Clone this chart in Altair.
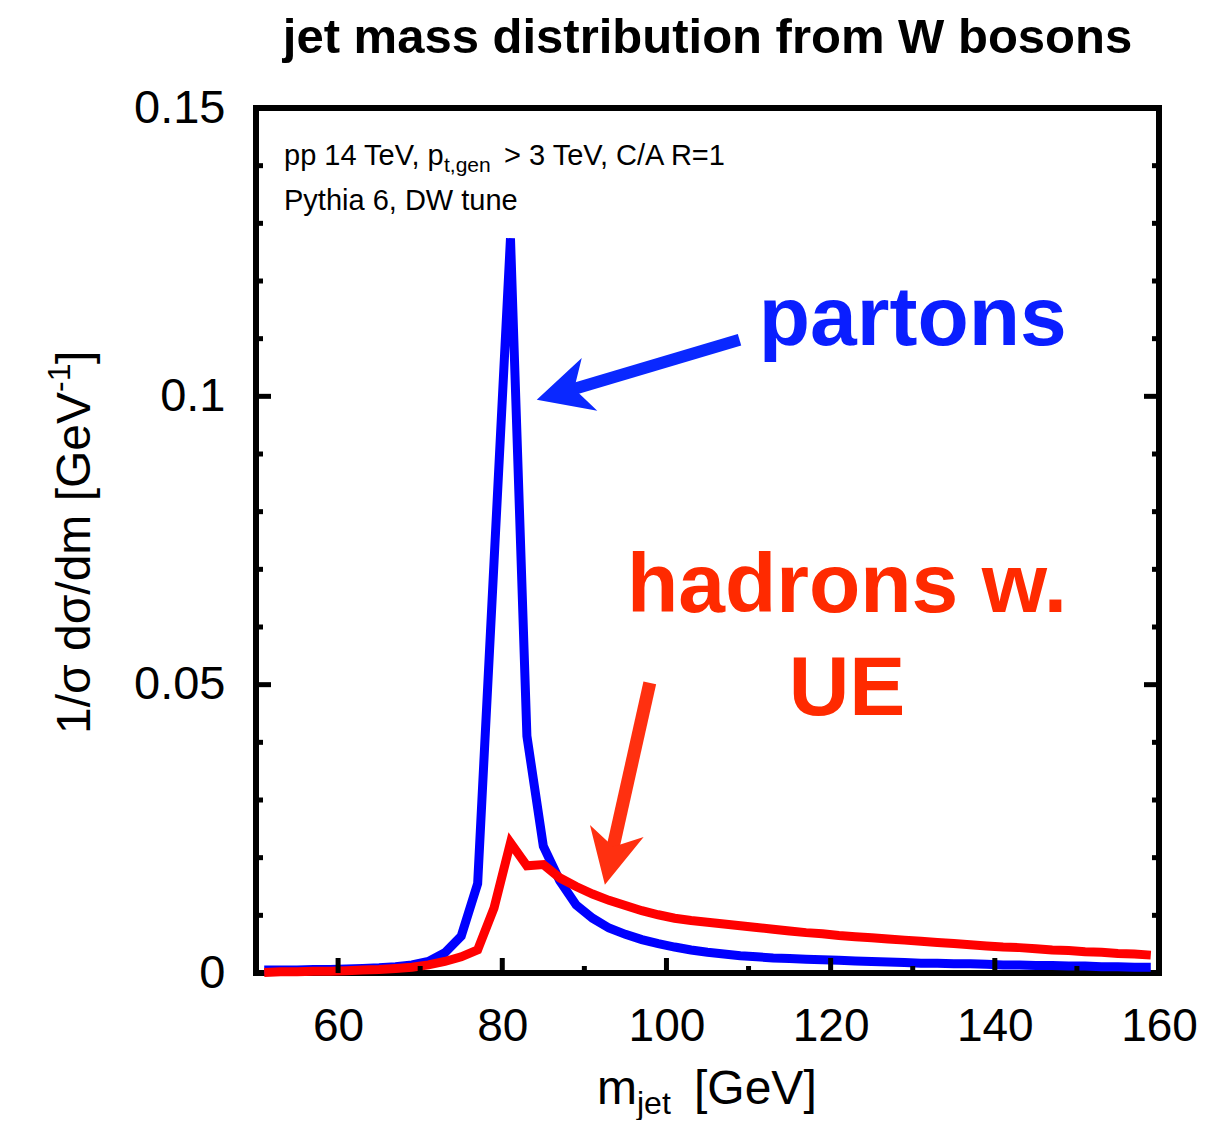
import altair as alt
import pandas as pd

FONT = "Liberation Sans"

# ---- data (2 GeV bins, bin centres) ----
m_jet = list(range(51, 161, 2))
partons = [0.0005, 0.0005, 0.0005, 0.0006, 0.0006, 0.0007, 0.0008, 0.0009, 0.0011, 0.0014,
           0.0020, 0.0035, 0.0064, 0.0155, 0.0714, 0.1274, 0.0411, 0.0220, 0.0160, 0.0118,
           0.0095, 0.0078, 0.0067, 0.0058, 0.0051, 0.0045, 0.0040, 0.0036, 0.0033, 0.0030,
           0.0028, 0.0026, 0.0025, 0.0024, 0.0023, 0.0022, 0.0021, 0.0020, 0.0019, 0.0018,
           0.0017, 0.0017, 0.0016, 0.0016, 0.0015, 0.0014, 0.0014, 0.0013, 0.0013, 0.0012,
           0.0012, 0.0011, 0.0011, 0.0010, 0.0010]
hadrons = [0.0001, 0.0002, 0.0002, 0.0003, 0.0003, 0.0004, 0.0005, 0.0006, 0.0008, 0.0010,
           0.0014, 0.0020, 0.0028, 0.0040, 0.0113, 0.0226, 0.0186, 0.0188, 0.0165, 0.0150,
           0.0137, 0.0126, 0.0117, 0.0108, 0.0101, 0.0095, 0.0091, 0.0088, 0.0085, 0.0082,
           0.0079, 0.0076, 0.0073, 0.0070, 0.0068, 0.0065, 0.0063, 0.0061, 0.0059, 0.0057,
           0.0055, 0.0053, 0.0051, 0.0049, 0.0047, 0.0045, 0.0044, 0.0042, 0.0040, 0.0039,
           0.0037, 0.0036, 0.0034, 0.0033, 0.0031]

x_labels = [60, 80, 100, 120, 140, 160]
y_labels = [0, 0.05, 0.1, 0.15]
x_major_ticks = [60, 80, 100, 120, 140]
x_minor_ticks = [70, 90, 110, 130, 150]
y_major_ticks = [0.05, 0.1]
y_minor_ticks = [0.01, 0.02, 0.03, 0.04, 0.06, 0.07, 0.08, 0.09, 0.11, 0.12, 0.13, 0.14]

# annotation labels (data coordinates)
label_text = ["partons", "hadrons w.", "UE"]
label_m = [130.0, 122.0, 122.0]
label_v = [0.1089, 0.0626, 0.0447]
label_color = ["#0A1EFF", "#FF2A00", "#FF2A00"]

# arrows: tail -> tip (data coordinates)
arrow_name = ["partons", "hadrons"]
arrow_tail_m = [108.9, 97.97]
arrow_tail_v = [0.1098, 0.0503]
arrow_end_m = [88.3, 93.4]
arrow_end_v = [0.1011, 0.0212]
arrow_tip_m = [84.2, 92.5]
arrow_tip_v = [0.0994, 0.0153]
arrow_angle = [253.6, 192.5]
arrow_color = ["#0A28FF", "#FF3010"]

W, H = 903, 865

df = pd.DataFrame({"m": m_jet, "partons": partons, "hadrons": hadrons})

xs = alt.Scale(domain=[50, 160], nice=False, zero=False)
ys = alt.Scale(domain=[0, 0.15], nice=False, zero=False)

x_axis = alt.Axis(values=x_labels, ticks=False, tickSize=0, domain=False, grid=False,
                  labelFont=FONT, labelFontSize=46, labelColor="black",
                  labelPadding=67, labelBaseline="alphabetic", labelFlush=False,
                  title=None)
y_axis = alt.Axis(values=y_labels, labelExpr="format(datum.value, '.2~f')",
                  ticks=False, tickSize=0, domain=False,
                  grid=False, labelFont=FONT, labelFontSize=47, labelColor="black",
                  labelPadding=31, labelFlush=False, labelBaseline="middle", title=None)


def X(field):
    return alt.X(field, scale=xs, axis=x_axis)


def Y(field):
    return alt.Y(field, scale=ys, axis=y_axis)


blue = alt.Chart(df).mark_line(color="#0000FF", strokeWidth=9, strokeJoin="miter").encode(
    x=X("m:Q"), y=Y("partons:Q"))
red = alt.Chart(df).mark_line(color="#FF0000", strokeWidth=9, strokeJoin="miter").encode(
    x=X("m:Q"), y=Y("hadrons:Q"))


# inward ticks
def xticks(vals, length):
    return alt.Chart(pd.DataFrame({"v": vals})).mark_rule(color="black", strokeWidth=5).encode(
        x=X("v:Q"), y=alt.value(H), y2=alt.value(H - length))


def yticks(vals, length, right=False):
    x0 = W if right else 0
    x1 = W - length if right else length
    return alt.Chart(pd.DataFrame({"v": vals})).mark_rule(color="black", strokeWidth=5).encode(
        y=Y("v:Q"), x=alt.value(x0), x2=alt.value(x1))


ticks = [xticks(x_major_ticks, 15), xticks(x_minor_ticks, 7),
         yticks(y_major_ticks, 15), yticks(y_minor_ticks, 7),
         yticks(y_major_ticks, 15, True), yticks(y_minor_ticks, 7, True)]

# arrows
adf = pd.DataFrame({"name": arrow_name, "tm": arrow_tail_m, "tv": arrow_tail_v,
                    "em": arrow_end_m, "ev": arrow_end_v,
                    "pm": arrow_tip_m, "pv": arrow_tip_v})
shaft_w = [12, 13]
head_path = "M 0 0 L 0.55 1.1 L 0 0.78 L -0.55 1.1 Z"
arrows = []
for i in range(len(arrow_name)):
    sub = adf.iloc[[i]]
    arrows.append(alt.Chart(sub).mark_rule(color=arrow_color[i], strokeWidth=shaft_w[i]).encode(
        x=X("tm:Q"), y=Y("tv:Q"), x2="em:Q", y2="ev:Q"))
    arrows.append(alt.Chart(sub).mark_point(shape=head_path, filled=True, size=10000,
                                            angle=arrow_angle[i], color=arrow_color[i],
                                            opacity=1, strokeWidth=0).encode(
        x=X("pm:Q"), y=Y("pv:Q")))

# big coloured labels
labels = []
for t, mm, vv, c in zip(label_text, label_m, label_v, label_color):
    labels.append(alt.Chart(pd.DataFrame({"t": [t], "m": [mm], "v": [vv]})).mark_text(
        font=FONT, fontSize=84, fontWeight="bold", color=c, align="center",
        baseline="alphabetic").encode(x=X("m:Q"), y=Y("v:Q"), text="t:N"))


def txt(text, px, py, size, angle=0, weight="normal", align="left"):
    mk = dict(font=FONT, fontSize=size, fontWeight=weight, color="black", align=align,
              baseline="alphabetic")
    if angle:
        mk["angle"] = angle
    return alt.Chart(pd.DataFrame({"t": [text]})).mark_text(**mk).encode(
        x=alt.value(px), y=alt.value(py), text="t:N")


texts = [
    # title
    txt("jet mass distribution from W bosons", W / 2, -55, 49, weight="bold", align="center"),
    # info box
    txt("pp 14 TeV, p", 28, 57, 29),
    txt("t,gen", 188, 64, 21),
    txt("> 3 TeV, C/A R=1", 248, 57, 29),
    txt("Pythia 6, DW tune", 28, 102, 29),
    # y axis title
    txt("1/σ dσ/dm [GeV", -166, 626, 48, angle=270),
    txt("-1", -186, 284, 32, angle=270),
    txt("]", -166, 256, 48, angle=270),
    # x axis title
    txt("m", 341, 996, 48),
    txt("jet", 381, 1006, 32),
    txt("[GeV]", 438, 996, 48),
]

chart = alt.layer(blue, red, *ticks, *arrows, *labels, *texts).properties(
    width=W, height=H,
    background="white",
    autosize=alt.AutoSizeParams(type="none"),
    padding={"left": 248, "top": 100, "right": 61, "bottom": 147},
).configure_view(stroke="black", strokeWidth=6)

chart.save("out.html", embed_options={"renderer": "svg", "actions": False})
